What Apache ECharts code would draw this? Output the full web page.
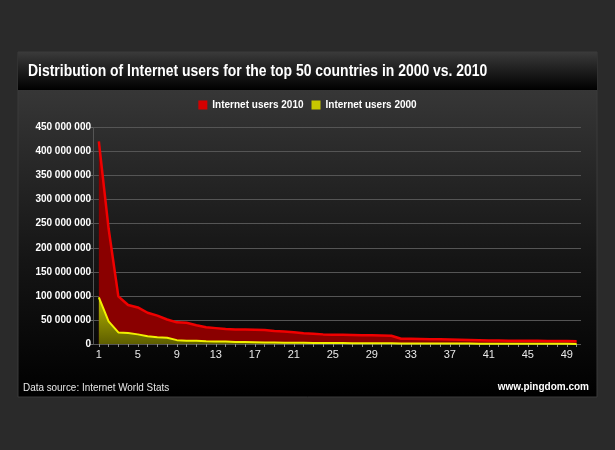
<!DOCTYPE html>
<html>
<head>
<meta charset="utf-8">
<script src="https://cdn.jsdelivr.net/npm/echarts@6/dist/echarts.min.js"></script>
<style>
    html, body { margin: 0; padding: 0; background: #2a2a2a; }
    #chart { width: 615px; height: 450px; }
</style>
</head>
<body>
<div id="chart"></div>
<script>
// Country rank (1 = largest) and users in millions
const ranks = Array.from({ length: 50 }, (_, i) => i + 1);

const users2010 = [
    421, 240, 99, 81, 76, 65, 59, 51, 45, 44,
    39, 35, 33, 31, 30, 30, 29.5, 29, 27, 26,
    24.5, 22.5, 21.5, 20, 19, 19, 18.5, 18, 18, 17.5,
    17, 11, 11, 10.5, 10, 10, 9.5, 9, 8.5, 8,
    7.5, 7.5, 7, 7, 6.5, 6.5, 6.2, 6, 6, 5.8
];

const users2000 = [
    97, 47, 24, 23, 20, 16, 14, 13, 8, 7,
    6.5, 5.5, 5, 5, 4.2, 4, 3.7, 3.2, 3, 2.8,
    2.7, 2.5, 2.3, 2.1, 2, 1.9, 1.8, 1.7, 1.5, 1.4,
    1.3, 1.2, 1.1, 1, 1, 0.9, 0.9, 0.8, 0.8, 0.7,
    0.7, 0.6, 0.6, 0.5, 0.5, 0.4, 0.4, 0.3, 0.3, 0.2
];

const xTickLabels = [1, 5, 9, 13, 17, 21, 25, 29, 33, 37, 41, 45, 49];

const fontSans = '"Liberation Sans", Arial, sans-serif';

function formatUsers(v) {
    return String(Math.round(v * 1000000)).replace(/\B(?=(\d{3})+(?!\d))/g, ' ');
}

const chart = echarts.init(document.getElementById('chart'));

const option = {
    backgroundColor: '#2a2a2a',
    animation: false,
    graphic: [
        // panel body
        {
            type: 'rect', z: -10,
            shape: { x: 18, y: 52, width: 579, height: 345 },
            style: {
                fill: new echarts.graphic.LinearGradient(0, 0, 0, 1, [
                    { offset: 0, color: '#3e3e3e' },
                    { offset: 0.6, color: '#151515' },
                    { offset: 1, color: '#000000' }
                ]),
                stroke: '#3a3a3a', lineWidth: 1
            }
        },
        // title bar
        {
            type: 'rect', z: -9,
            shape: { x: 18, y: 52, width: 579, height: 38 },
            style: {
                fill: new echarts.graphic.LinearGradient(0, 0, 0, 1, [
                    { offset: 0, color: '#3a3a3a' },
                    { offset: 1, color: '#000000' }
                ])
            }
        },
        // title, squeezed to match the condensed face of the original
        {
            type: 'text', x: 28, y: 63, scaleX: 0.82,
            style: {
                text: 'Distribution of Internet users for the top 50 countries in 2000 vs. 2010',
                fill: '#ffffff', font: 'bold 17px ' + fontSans
            }
        },
        {
            type: 'text', x: 23, y: 382, scaleX: 0.9,
            style: {
                text: 'Data source: Internet World Stats',
                fill: '#e8e8e8', font: '11px ' + fontSans
            }
        },
        {
            type: 'text', right: 26, top: 382,
            style: {
                text: 'www.pingdom.com',
                fill: '#ffffff', font: 'bold 10px ' + fontSans
            }
        }
    ],
    legend: {
        top: 95,
        left: 'center',
        itemWidth: 9,
        itemHeight: 9,
        itemGap: 8,
        icon: 'rect',
        textStyle: { color: '#ffffff', fontSize: 10, fontWeight: 'bold', fontFamily: fontSans },
        data: ['Internet users 2010', 'Internet users 2000']
    },
    grid: {
        left: 93,
        right: 34,
        top: 127.5,
        bottom: 106
    },
    xAxis: {
        type: 'value',
        min: 0.4,
        max: 50.45,
        splitLine: { show: false },
        axisLine: { show: false },
        axisTick: {
            show: true,
            length: 3,
            customValues: ranks,
            lineStyle: { color: '#8a8a8a' }
        },
        axisLabel: {
            customValues: xTickLabels,
            color: '#e8e8e8',
            fontSize: 11,
            fontFamily: fontSans,
            margin: 5
        }
    },
    yAxis: {
        type: 'value',
        min: 0,
        max: 450,
        interval: 50,
        axisLine: { show: true, lineStyle: { color: '#555555' } },
        axisTick: { show: true, length: 3, lineStyle: { color: '#666666' } },
        splitLine: { lineStyle: { color: '#555555', width: 1 } },
        axisLabel: {
            color: '#ffffff',
            fontSize: 10,
            fontWeight: 'bold',
            fontFamily: fontSans,
            margin: 2,
            formatter: formatUsers
        }
    },
    series: [
        {
            name: 'Internet users 2010',
            type: 'line',
            data: ranks.map((r, i) => [r, users2010[i]]),
            symbol: 'none',
            itemStyle: { color: '#d40000' },
            lineStyle: { color: '#f00000', width: 2.5 },
            areaStyle: { color: '#8a0000', opacity: 1 },
            z: 2
        },
        {
            name: 'Internet users 2000',
            type: 'line',
            data: ranks.map((r, i) => [r, users2000[i]]),
            symbol: 'none',
            itemStyle: { color: '#c8c800' },
            lineStyle: { color: '#f0f000', width: 2 },
            areaStyle: {
                opacity: 1,
                color: new echarts.graphic.LinearGradient(0, 0, 0, 1, [
                    { offset: 0, color: '#b8b800' },
                    { offset: 1, color: '#5e5e00' }
                ])
            },
            z: 3
        }
    ]
};

chart.setOption(option);
</script>
</body>
</html>
